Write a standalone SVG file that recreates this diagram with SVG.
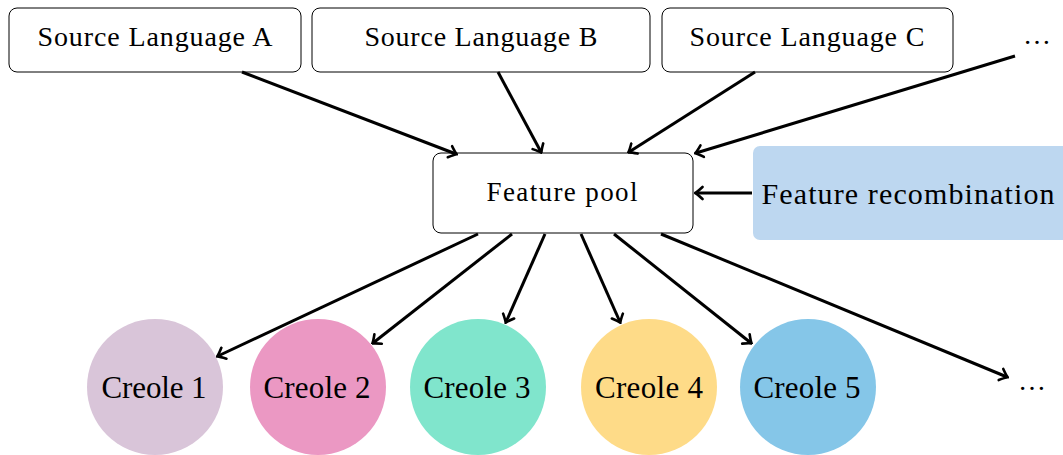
<svg xmlns="http://www.w3.org/2000/svg" width="1063" height="455" viewBox="0 0 1063 455">
  <style>
    .box { fill: #ffffff; stroke: #000000; stroke-width: 1; }
    .lbl { font-family: "Liberation Serif", "DejaVu Serif", serif; fill: #000000; text-anchor: middle; }
    .src { font-size: 28px; }
    .pool { font-size: 27px; }
    .big { font-size: 30px; }
    .cr { font-size: 31px; }
    .edge { fill: none; stroke: #000000; stroke-width: 3; marker-end: url(#arrow); }
  </style>
  <defs>
    <marker id="arrow" viewBox="-8 -8 10 16" markerWidth="10" markerHeight="16" refX="0" refY="0" orient="auto" markerUnits="userSpaceOnUse">
      <path d="M -6.5 -6 Q -1.5 -1.3 0.8 0 Q -1.5 1.3 -6.5 6" fill="none" stroke="#000000" stroke-width="2.6" stroke-linecap="round"/>
    </marker>
  </defs>
  <rect width="1063" height="455" fill="#ffffff"/>

  <!-- source languages -->
  <g id="srcA">
    <rect class="box" x="9" y="8" width="292" height="64" rx="8"/>
    <text class="lbl src" x="155" y="46" textLength="235" lengthAdjust="spacing">Source Language A</text>
  </g>
  <g id="srcB">
    <rect class="box" x="312" y="8" width="338" height="64" rx="8"/>
    <text class="lbl src" x="481" y="46" textLength="233" lengthAdjust="spacing">Source Language B</text>
  </g>
  <g id="srcC">
    <rect class="box" x="662" y="8" width="291" height="64" rx="8"/>
    <text class="lbl src" x="807" y="46" textLength="235" lengthAdjust="spacing">Source Language C</text>
  </g>
  <g id="srcMore">
    <text class="lbl src" x="1037" y="44" textLength="21" lengthAdjust="spacing">…</text>
  </g>

  <!-- pool and recombination -->
  <g id="pool">
    <rect class="box" x="433" y="153" width="260" height="80" rx="8"/>
    <text class="lbl pool" x="562" y="201" textLength="151" lengthAdjust="spacing">Feature pool</text>
  </g>
  <g id="recomb">
    <rect x="753" y="146" width="316" height="94" rx="7" fill="#bdd7f0"/>
    <text class="lbl big" x="908" y="204" textLength="293" lengthAdjust="spacing">Feature recombination</text>
  </g>

  <!-- creoles -->
  <g id="creole1">
    <circle cx="155" cy="387" r="68" fill="#d9c5d9"/>
    <text class="lbl cr" x="154" y="398" textLength="105" lengthAdjust="spacing">Creole 1</text>
  </g>
  <g id="creole2">
    <circle cx="318" cy="387" r="68" fill="#eb98c3"/>
    <text class="lbl cr" x="317" y="398" textLength="107" lengthAdjust="spacing">Creole 2</text>
  </g>
  <g id="creole3">
    <circle cx="478" cy="387" r="68" fill="#80e5cc"/>
    <text class="lbl cr" x="477" y="398" textLength="107" lengthAdjust="spacing">Creole 3</text>
  </g>
  <g id="creole4">
    <circle cx="649" cy="387" r="68" fill="#fedb88"/>
    <text class="lbl cr" x="649" y="398" textLength="108" lengthAdjust="spacing">Creole 4</text>
  </g>
  <g id="creole5">
    <circle cx="808" cy="387" r="68" fill="#85c6e8"/>
    <text class="lbl cr" x="807" y="398" textLength="107" lengthAdjust="spacing">Creole 5</text>
  </g>
  <g id="creoleMore">
    <text class="lbl src" x="1032" y="390" textLength="21" lengthAdjust="spacing">…</text>
  </g>

  <!-- connectors -->
  <g id="edges">
    <line class="edge" x1="242" y1="72" x2="456" y2="154"/>
    <line class="edge" x1="498" y1="72" x2="541" y2="152"/>
    <line class="edge" x1="755" y1="72" x2="629" y2="152"/>
    <line class="edge" x1="1015" y1="56" x2="696" y2="153"/>
    <line class="edge" x1="752" y1="193" x2="696" y2="193"/>
    <line class="edge" x1="478" y1="234" x2="218" y2="356"/>
    <line class="edge" x1="512" y1="234" x2="373" y2="343"/>
    <line class="edge" x1="545" y1="234" x2="506" y2="322"/>
    <line class="edge" x1="581" y1="234" x2="620" y2="322"/>
    <line class="edge" x1="614" y1="234" x2="751" y2="343"/>
    <line class="edge" x1="661" y1="234" x2="1007" y2="377"/>
  </g>
</svg>
